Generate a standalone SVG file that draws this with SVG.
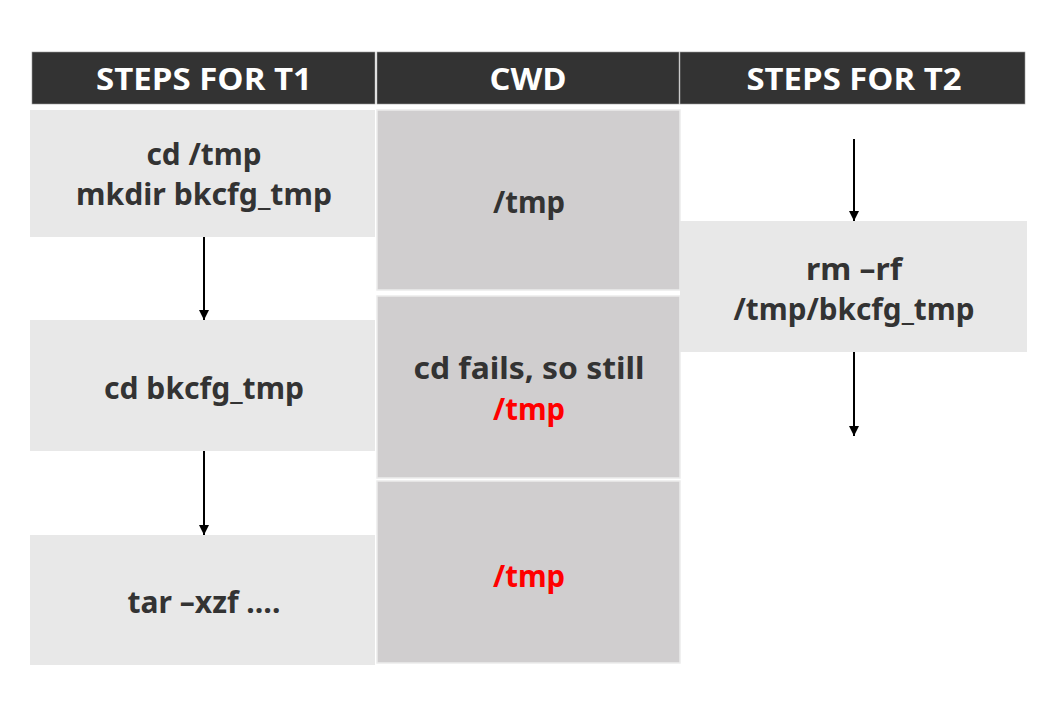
<svg xmlns="http://www.w3.org/2000/svg" width="1057" height="721" viewBox="0 0 1057 721">
<style>
.hdr{fill:#333333;stroke:#9a9a9a;stroke-width:0.6}
.ht{font-family:"Open Sans","Noto Sans",sans-serif;font-weight:bold;font-size:31px;fill:#ffffff;text-anchor:middle}
.t1{fill:#e8e8e8}
.cw{fill:#d0cecf;stroke:#ececec;stroke-width:1.5}
.tx{font-family:"Noto Sans","Open Sans",sans-serif;font-weight:bold;font-size:30px;fill:#333333;text-anchor:middle}
.red{fill:#ff0000}
.con{stroke:#000000;stroke-width:2;fill:none}
</style>
<defs>
<marker id="ah" viewBox="0 0 10 10" refX="10" refY="5" markerWidth="5" markerHeight="5" orient="auto" markerUnits="strokeWidth">
<path d="M0,0 L10,5 L0,10 z" fill="#000000"/>
</marker>
</defs>
<rect width="1057" height="721" fill="#ffffff"/>
<g id="header-t1"><rect class="hdr" x="32" y="52" width="343" height="52"/><text class="ht" x="204" y="90" textLength="216" lengthAdjust="spacingAndGlyphs">STEPS FOR T1</text></g>
<g id="header-cwd"><rect class="hdr" x="377" y="52" width="302" height="52"/><text class="ht" x="528" y="90" textLength="77" lengthAdjust="spacingAndGlyphs">CWD</text></g>
<g id="header-t2"><rect class="hdr" x="680" y="52" width="345" height="52"/><text class="ht" x="854" y="90" textLength="215" lengthAdjust="spacingAndGlyphs">STEPS FOR T2</text></g>

<g id="t1-step1"><rect class="t1" x="30" y="110" width="345" height="127"/>
<text class="tx" x="204" y="165" textLength="115" lengthAdjust="spacingAndGlyphs">cd /tmp</text>
<text class="tx" x="204" y="205" textLength="256" lengthAdjust="spacingAndGlyphs">mkdir bkcfg_tmp</text></g>
<g id="t1-step2"><rect class="t1" x="30" y="320" width="345" height="131"/>
<text class="tx" x="204" y="399" textLength="200" lengthAdjust="spacingAndGlyphs">cd bkcfg_tmp</text></g>
<g id="t1-step3"><rect class="t1" x="30" y="535" width="345" height="130"/>
<text class="tx" x="204" y="613" textLength="153" lengthAdjust="spacingAndGlyphs">tar –xzf ….</text></g>

<g id="cwd-1"><rect class="cw" x="377" y="110" width="303" height="180"/>
<text class="tx" x="529" y="213" textLength="72" lengthAdjust="spacingAndGlyphs">/tmp</text></g>
<g id="cwd-2"><rect class="cw" x="377" y="296" width="303" height="182"/>
<text class="tx" x="529" y="379" textLength="231" lengthAdjust="spacingAndGlyphs">cd fails, so still</text>
<text class="tx red" x="529" y="420" textLength="72" lengthAdjust="spacingAndGlyphs">/tmp</text></g>
<g id="cwd-3"><rect class="cw" x="377" y="481" width="303" height="182"/>
<text class="tx red" x="529" y="587" textLength="72" lengthAdjust="spacingAndGlyphs">/tmp</text></g>

<g id="t2-step1"><rect class="t1" x="680" y="221" width="347" height="131"/>
<text class="tx" x="854" y="280" textLength="96" lengthAdjust="spacingAndGlyphs">rm –rf</text>
<text class="tx" x="854" y="320" textLength="241" lengthAdjust="spacingAndGlyphs">/tmp/bkcfg_tmp</text></g>

<g id="connectors">
<line class="con" x1="204" y1="237" x2="204" y2="320" marker-end="url(#ah)"/>
<line class="con" x1="204" y1="451" x2="204" y2="535" marker-end="url(#ah)"/>
<line class="con" x1="854" y1="139" x2="854" y2="221" marker-end="url(#ah)"/>
<line class="con" x1="854" y1="352" x2="854" y2="436" marker-end="url(#ah)"/>
</g>
</svg>
